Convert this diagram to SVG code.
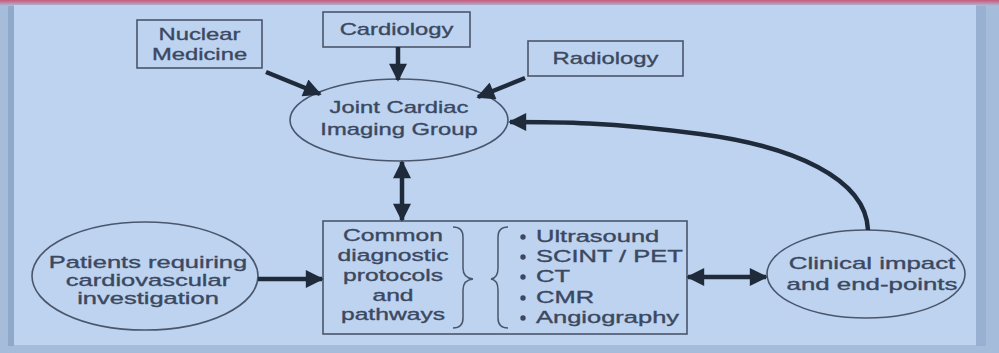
<svg xmlns="http://www.w3.org/2000/svg" width="999" height="353" viewBox="0 0 999 353">
<defs>
<style>
.t{font-family:"Liberation Sans",Arial,sans-serif;font-size:17px;fill:#3b4860;stroke:#3b4860;stroke-width:0.35;text-anchor:middle}
.tl{font-family:"Liberation Sans",Arial,sans-serif;font-size:17px;fill:#3b4860;stroke:#3b4860;stroke-width:0.35;text-anchor:start}
.box{fill:none;stroke:#4a566b;stroke-width:1.6}
.ell{fill:none;stroke:#4a566b;stroke-width:1.6}
.arr{fill:none;stroke:#1f2a3b;stroke-width:4.5}
.br{fill:none;stroke:#4a566b;stroke-width:1.5}
</style>
<marker id="ah" viewBox="0 0 10 10" refX="9" refY="5" markerWidth="4.2" markerHeight="4" orient="auto-start-reverse">
<path d="M0,0 L10,5 L0,10 Z" fill="#1f2a3b"/>
</marker>
<linearGradient id="topband" x1="0" y1="0" x2="0" y2="1">
<stop offset="0" stop-color="#c9587a"/>
<stop offset="1" stop-color="#a9bfdc"/>
</linearGradient>
</defs>
<rect x="0" y="0" width="999" height="353" fill="#a5bddb"/>
<rect x="0" y="0" width="999" height="6" fill="url(#topband)"/>
<rect x="8" y="6" width="6" height="340" fill="#8fa9ca"/>
<rect x="976" y="6" width="10" height="340" fill="#98b1d2"/>
<rect x="14" y="5" width="962" height="340" fill="#bdd3f0"/>

<g id="nuclear">
<rect class="box" x="137" y="20" width="125" height="48"/>
<text class="t" transform="translate(199.5,40) scale(1.4,1)">Nuclear</text>
<text class="t" transform="translate(199.5,60) scale(1.4,1)">Medicine</text>
</g>
<g id="cardiology">
<rect class="box" x="323" y="12" width="147" height="35"/>
<text class="t" transform="translate(396.5,35) scale(1.4,1)">Cardiology</text>
</g>
<g id="radiology">
<rect class="box" x="528" y="41" width="155" height="35"/>
<text class="t" transform="translate(605.5,64) scale(1.4,1)">Radiology</text>
</g>
<g id="joint">
<ellipse class="ell" cx="399" cy="120" rx="109" ry="41"/>
<text class="t" transform="translate(399,113) scale(1.4,1)">Joint Cardiac</text>
<text class="t" transform="translate(399,135) scale(1.4,1)">Imaging Group</text>
</g>
<g id="patients">
<ellipse class="ell" cx="145" cy="276" rx="113" ry="54"/>
<text class="t" transform="translate(148,268) scale(1.5,1)">Patients requiring</text>
<text class="t" transform="translate(148,286) scale(1.5,1)">cardiovascular</text>
<text class="t" transform="translate(148,304) scale(1.5,1)">investigation</text>
</g>
<g id="common">
<rect class="box" x="323" y="221" width="364" height="113"/>
<text class="t" transform="translate(393,241) scale(1.45,1)">Common</text>
<text class="t" transform="translate(393,261) scale(1.45,1)">diagnostic</text>
<text class="t" transform="translate(393,281) scale(1.45,1)">protocols</text>
<text class="t" transform="translate(393,301) scale(1.45,1)">and</text>
<text class="t" transform="translate(393,320) scale(1.45,1)">pathways</text>
<path class="br" d="M453,227 Q463,227 463,237 L463,268 Q463,278 473,279 Q463,280 463,290 L463,318 Q463,328 453,328"/>
<path class="br" d="M508,227 Q498,227 498,237 L498,268 Q498,278 491,279 Q498,280 498,290 L498,318 Q498,328 508,328"/>
<g fill="#3b4860">
<circle cx="523" cy="237" r="2.7"/>
<circle cx="523" cy="257" r="2.7"/>
<circle cx="523" cy="277" r="2.7"/>
<circle cx="523" cy="298" r="2.7"/>
<circle cx="523" cy="318" r="2.7"/>
</g>
<text class="tl" transform="translate(536,242) scale(1.5,1)">Ultrasound</text>
<text class="tl" transform="translate(536,262) scale(1.5,1)">SCINT / PET</text>
<text class="tl" transform="translate(536,282) scale(1.5,1)">CT</text>
<text class="tl" transform="translate(536,303) scale(1.5,1)">CMR</text>
<text class="tl" transform="translate(536,323) scale(1.5,1)">Angiography</text>
</g>
<g id="clinical">
<ellipse class="ell" cx="866" cy="274" rx="99" ry="44"/>
<text class="t" transform="translate(872,269) scale(1.52,1)">Clinical impact</text>
<text class="t" transform="translate(872,290) scale(1.52,1)">and end-points</text>
</g>
<g id="connectors">
<line class="arr" x1="266" y1="72" x2="320" y2="94" marker-end="url(#ah)"/>
<line class="arr" x1="398" y1="47" x2="398" y2="80" marker-end="url(#ah)"/>
<line class="arr" x1="525" y1="78" x2="478" y2="97" marker-end="url(#ah)"/>
<line class="arr" x1="402" y1="162" x2="402" y2="220" marker-start="url(#ah)" marker-end="url(#ah)"/>
<line class="arr" x1="258" y1="279" x2="322" y2="279" marker-end="url(#ah)"/>
<line class="arr" x1="688" y1="277" x2="766" y2="277" marker-start="url(#ah)" marker-end="url(#ah)"/>
<path class="arr" d="M868,230 C866,178 792,146 700,134 S560,122 510,122" marker-end="url(#ah)"/>
</g>
</svg>
